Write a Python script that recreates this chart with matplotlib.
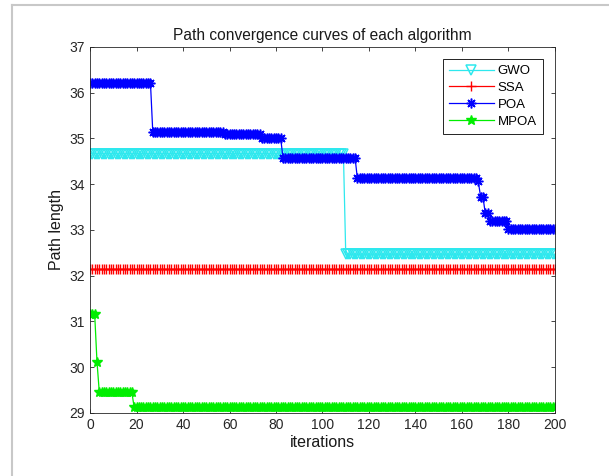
import numpy as np
import matplotlib.pyplot as plt
from matplotlib.lines import Line2D

plt.rcParams['font.family'] = ['Liberation Sans', 'DejaVu Sans']

iterations = np.arange(0, 201)

# step levels (value, number of iterations)
gwo_levels = [34.67, 32.47]
gwo_counts = [110, 91]
ssa_levels = [32.15]
ssa_counts = [201]
poa_levels = [36.22, 35.14, 35.09, 35.01, 34.58, 34.13, 34.06, 33.73, 33.37, 33.19, 33.03]
poa_counts = [27, 31, 16, 9, 32, 52, 1, 2, 2, 8, 21]
mpoa_levels = [31.17, 30.12, 29.45, 29.12]
mpoa_counts = [3, 1, 15, 182]

gwo = np.repeat(gwo_levels, gwo_counts)
ssa = np.repeat(ssa_levels, ssa_counts)
poa = np.repeat(poa_levels, poa_counts)
mpoa = np.repeat(mpoa_levels, mpoa_counts)

fig = plt.figure(figsize=(6.09, 4.76), dpi=100)
ax = fig.add_axes([0.1478, 0.1324, 0.7635, 0.7689])

ax.plot(iterations, gwo, color="#2ee8ee", marker="v", markersize=6.5, mfc="none", mew=1.1, lw=0.9, label="GWO")
ax.plot(iterations, ssa, color="#ff0000", marker="+", markersize=7.5, mew=1.0, lw=0.9, label="SSA")
ax.plot(iterations, poa, color="#0000ff", marker=(8, 2, 0), markersize=7, mew=1.1, lw=0.9, label="POA")
ax.plot(iterations, mpoa, color="#00ee00", marker="*", markersize=7, mew=1.0, lw=0.9, label="MPOA")

ax.set_xlim(0, 200)
ax.set_ylim(29, 37)
ax.set_xticks(range(0, 201, 20))
ax.set_yticks(range(29, 38))
ax.tick_params(direction="in", top=True, right=True, labelsize=10, length=3, width=0.6, colors="#262626")
for s in ax.spines.values():
    s.set_linewidth(0.6)
    s.set_color("#262626")

ax.set_title("Path convergence curves of each algorithm", fontsize=11.2, color="#1a1a1a", pad=5)
ax.set_xlabel("iterations", fontsize=11.5, color="#1a1a1a", labelpad=2)
ax.set_ylabel("Path length", fontsize=11.5, color="#1a1a1a", labelpad=4)

leg = ax.legend(loc="upper right", bbox_to_anchor=(0.974, 0.967), borderaxespad=0, fontsize=9.5,
                handlelength=3.4, fancybox=False, edgecolor="black", framealpha=1,
                borderpad=0.45, labelspacing=0.35, handletextpad=0.3)
leg.get_frame().set_linewidth(0.6)

# light frame around the figure
fig.add_artist(Line2D([12 / 609, 12 / 609], [0, 1 - 5 / 476], color="#c8c8c8", lw=1.5))
fig.add_artist(Line2D([12 / 609, 1], [1 - 5 / 476, 1 - 5 / 476], color="#c8c8c8", lw=1.5))

plt.savefig("out.png", dpi=100)
